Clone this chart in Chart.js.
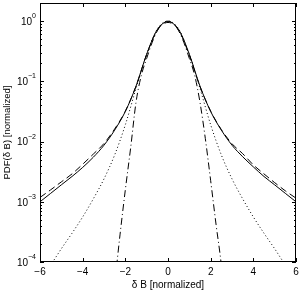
<!DOCTYPE html>
<html>
<head>
<meta charset="utf-8">
<script src="https://cdn.jsdelivr.net/npm/chart.js@4.4.1/dist/chart.umd.min.js"></script>
<style>
  html, body { margin: 0; padding: 0; background: #fff; }
  #wrap { width: 305px; height: 291px; }
</style>
</head>
<body>
<div id="wrap"><canvas id="pdfChart"></canvas></div>
<script>
// ===== DATA =====
const xTicks   = [-6, -4, -2, 0, 2, 4, 6];
const yDecades = [-4, -3, -2, -1, 0];

// solid: model fit
const fitX   = [-6, -5.5, -5, -4.5, -4, -3.5, -3, -2.5, -2, -1.5, -1, -0.5, 0, 0.5, 1, 1.5, 2, 2.5, 3, 3.5, 4, 4.5, 5, 5.5, 6];
const fitPdf = [0.0010, 0.00138, 0.00191, 0.00263, 0.00372, 0.0055, 0.0087, 0.0155, 0.0316, 0.083, 0.282, 0.724, 0.977,
                0.724, 0.282, 0.083, 0.0316, 0.0155, 0.0087, 0.0056, 0.0038, 0.00263, 0.00191, 0.00138, 0.0010];

// dashed: measured
const dataX   = [-6, -5.5, -5, -4.5, -4, -3.5, -3, -2.5, -2, -1.5, -1, -0.5, 0, 0.5, 1, 1.5, 2, 2.5, 3, 3.5, 4, 4.5, 5, 5.5, 6];
const dataPdf = [0.00118, 0.00158, 0.00214, 0.0029, 0.0042, 0.0062, 0.0093, 0.0162, 0.032, 0.083, 0.28, 0.71, 0.95,
                 0.71, 0.27, 0.082, 0.032, 0.0158, 0.0092, 0.0063, 0.0041, 0.0029, 0.00208, 0.00152, 0.00115];

// dotted
const dotX   = [-6, -5.5, -5, -4.5, -4, -3.5, -3, -2.5, -2, -1.5, -1, -0.5, 0, 0.5, 1, 1.5, 2, 2.5, 3, 3.5, 4, 4.5, 5, 5.5, 6];
const dotPdf = [0.00005, 0.000089, 0.000166, 0.0003, 0.00056, 0.00112, 0.0024, 0.006, 0.019, 0.076, 0.28, 0.74, 1.0,
                0.74, 0.28, 0.076, 0.019, 0.006, 0.0024, 0.00112, 0.00056, 0.0003, 0.000166, 0.000089, 0.00005];

// dash-dot: gaussian-like
const gaussX   = [-2.75, -2.5, -2.25, -2, -1.75, -1.5, -1.25, -1, -0.75, -0.5, -0.25, 0, 0.25, 0.5, 0.75, 1, 1.25, 1.5, 1.75, 2, 2.25, 2.5, 2.75];
const gaussPdf = [0.00001, 0.0000447, 0.000282, 0.00158, 0.0079, 0.0447, 0.126, 0.24, 0.436, 0.69, 0.91, 1.0,
                  0.91, 0.69, 0.436, 0.24, 0.126, 0.0447, 0.0112, 0.00224, 0.000427, 0.0000891, 0.00001];

const FONT = '"Liberation Sans", Arial, Helvetica, sans-serif';

function pts(xs, ys) {
  return xs.map((x, i) => ({ x, y: ys[i] }));
}

function series(xs, ys, dash) {
  return {
    data: pts(xs, ys),
    borderColor: '#000',
    borderWidth: 1,
    borderDash: dash,
    pointRadius: 0,
    fill: false,
    showLine: true,
    cubicInterpolationMode: 'monotone',
  };
}

// ===== FRAME, INWARD TICKS, LOG LABELS =====
const framePlugin = {
  id: 'frame',
  afterDatasetsDraw(chart) {
    const { ctx, chartArea: a, scales: { x, y } } = chart;
    const line = (x1, y1, x2, y2) => { ctx.beginPath(); ctx.moveTo(x1, y1); ctx.lineTo(x2, y2); ctx.stroke(); };

    ctx.save();
    ctx.strokeStyle = '#000';
    ctx.lineWidth = 1;
    ctx.strokeRect(a.left + 0.5, a.top + 0.5, a.right - a.left - 1, a.bottom - a.top - 1);

    xTicks.forEach(v => {
      const px = Math.round(x.getPixelForValue(v)) + 0.5;
      line(px, a.bottom, px, a.bottom - 4);
      line(px, a.top, px, a.top + 4);
    });

    yDecades.forEach(k => {
      for (let m = 1; m <= 9; m++) {
        const v = m * Math.pow(10, k);
        if (v >= y.max) continue;
        const py = Math.round(y.getPixelForValue(v)) + 0.5;
        const len = m === 1 ? 4 : 2;
        line(a.left, py, a.left + len, py);
        line(a.right, py, a.right - len, py);
      }
    });

    // y labels: 10 with raised exponent
    ctx.fillStyle = '#000';
    ctx.textBaseline = 'middle';
    yDecades.forEach(k => {
      const py = y.getPixelForValue(Math.pow(10, k));
      const exp = k === 0 ? '0' : '\u2212' + Math.abs(k);
      ctx.font = '7px ' + FONT;
      const ew = ctx.measureText(exp).width;
      const ex = a.left - 4 - ew;
      ctx.textAlign = 'left';
      ctx.fillText(exp, ex, py - 5);
      ctx.font = '10px ' + FONT;
      ctx.textAlign = 'right';
      ctx.fillText('10', ex, py + 1);
    });
    ctx.restore();
  }
};

// ===== CHART =====
new Chart(document.getElementById('pdfChart'), {
  type: 'scatter',
  data: {
    datasets: [
      series(fitX, fitPdf, []),
      series(dataX, dataPdf, [7, 4]),
      series(dotX, dotPdf, [1, 2.5]),
      series(gaussX, gaussPdf, [7, 3, 1, 3]),
    ]
  },
  options: {
    responsive: true,
    maintainAspectRatio: false,
    animation: false,
    layout: { padding: { left: 2, right: 9, top: 3, bottom: 0 } },
    plugins: {
      legend: { display: false },
      tooltip: { enabled: false }
    },
    scales: {
      x: {
        type: 'linear',
        min: -6,
        max: 6,
        grid: { display: false, drawTicks: false },
        border: { display: false },
        ticks: {
          stepSize: 2,
          color: '#000',
          padding: 4,
          font: { size: 10, family: FONT },
          callback: v => String(v).replace('-', '\u2212')
        },
        title: {
          display: true,
          text: '\u03b4 B [normalized]',
          color: '#000',
          padding: { top: -3, bottom: 0 },
          font: { size: 10, family: FONT }
        }
      },
      y: {
        type: 'logarithmic',
        min: 1e-4,
        max: 2,
        grid: { display: false, drawTicks: false },
        border: { display: false },
        ticks: { display: false },
        title: {
          display: true,
          text: 'PDF(\u03b4 B) [normalized]',
          color: '#000',
          padding: { top: 0, bottom: 0 },
          font: { size: 9.5, family: FONT }
        },
        afterFit: s => { s.width = 38; }
      }
    }
  },
  plugins: [framePlugin]
});
</script>
</body>
</html>
